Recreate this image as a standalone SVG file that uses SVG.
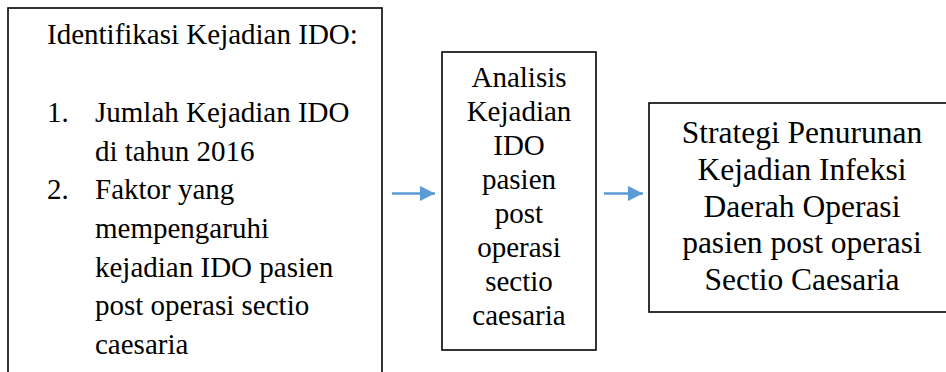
<svg xmlns="http://www.w3.org/2000/svg" width="946" height="372" viewBox="0 0 946 372">
  <style>
    .box { fill: #ffffff; stroke: #000000; stroke-width: 1.6; }
    .t { font-family: "Liberation Serif", "Times New Roman", serif; fill: #000000; }
    .s29 { font-size: 29px; }
    .s31 { font-size: 31.5px; }
    .c { text-anchor: middle; }
    .link { stroke: #5B9BD5; stroke-width: 2.4; fill: none; marker-end: url(#head); }
  </style>
  <defs>
    <marker id="head" markerUnits="userSpaceOnUse" markerWidth="16" markerHeight="16" refX="15" refY="7.5" orient="auto">
      <path d="M0,0 L15,7.5 L0,15 z" fill="#5B9BD5"/>
    </marker>
  </defs>
  <rect width="946" height="372" fill="#ffffff"/>

  <g id="identifikasi">
    <rect class="box" x="8" y="8" width="374" height="380"/>
    <text class="t s29" x="47" y="44">Identifikasi Kejadian IDO:</text>
    <text class="t s29" x="47" y="122">1.</text>
    <text class="t s29" x="95" y="122">Jumlah Kejadian IDO</text>
    <text class="t s29" x="95" y="160.5">di tahun 2016</text>
    <text class="t s29" x="47" y="199">2.</text>
    <text class="t s29" x="95" y="199">Faktor yang</text>
    <text class="t s29" x="95" y="238">mempengaruhi</text>
    <text class="t s29" x="95" y="276.5">kejadian IDO pasien</text>
    <text class="t s29" x="95" y="315">post operasi sectio</text>
    <text class="t s29" x="95" y="354">caesaria</text>
  </g>

  <g id="analisis">
    <rect class="box" x="442" y="52" width="154" height="298"/>
    <text class="t s29 c" x="519" y="87">Analisis</text>
    <text class="t s29 c" x="519" y="121">Kejadian</text>
    <text class="t s29 c" x="519" y="155">IDO</text>
    <text class="t s29 c" x="519" y="189">pasien</text>
    <text class="t s29 c" x="519" y="223">post</text>
    <text class="t s29 c" x="519" y="257">operasi</text>
    <text class="t s29 c" x="519" y="291">sectio</text>
    <text class="t s29 c" x="519" y="324.5">caesaria</text>
  </g>

  <g id="strategi">
    <rect class="box" x="649" y="103" width="320" height="209"/>
    <text class="t s31 c" x="802" y="143">Strategi Penurunan</text>
    <text class="t s31 c" x="802" y="180">Kejadian Infeksi</text>
    <text class="t s31 c" x="802" y="216.5">Daerah Operasi</text>
    <text class="t s31 c" x="802" y="253">pasien post operasi</text>
    <text class="t s31 c" x="802" y="290">Sectio Caesaria</text>
  </g>

  <g id="connectors">
    <line class="link" x1="392" y1="193.5" x2="435" y2="193.5"/>
    <line class="link" x1="604" y1="193.5" x2="643" y2="193.5"/>
  </g>
</svg>
